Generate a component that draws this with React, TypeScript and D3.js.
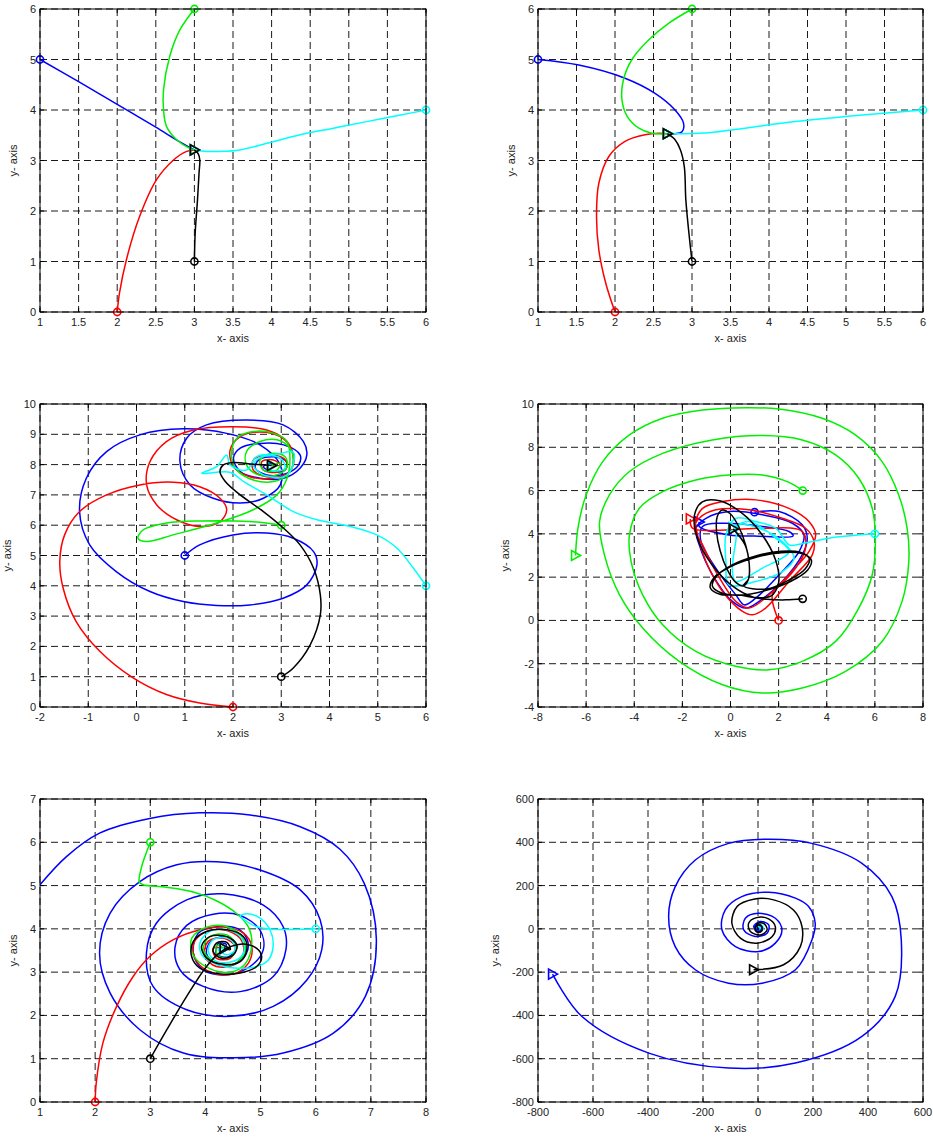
import React from 'react';
import * as d3 from 'd3';

type Pt = [number, number];

// ---------- tick values ----------
const ticksX12 = [1, 1.5, 2, 2.5, 3, 3.5, 4, 4.5, 5, 5.5, 6];
const ticksY12 = [0, 1, 2, 3, 4, 5, 6];
const ticksX3 = [-2, -1, 0, 1, 2, 3, 4, 5, 6];
const ticksY3 = [0, 1, 2, 3, 4, 5, 6, 7, 8, 9, 10];
const ticksX4 = [-8, -6, -4, -2, 0, 2, 4, 6, 8];
const ticksY4 = [-4, -2, 0, 2, 4, 6, 8, 10];
const ticksX5 = [1, 2, 3, 4, 5, 6, 7, 8];
const ticksY5 = [0, 1, 2, 3, 4, 5, 6, 7];
const ticksX6 = [-800, -600, -400, -200, 0, 200, 400, 600];
const ticksY6 = [-800, -600, -400, -200, 0, 200, 400, 600];

// ---------- panel 1 ----------
const p1Blue: Pt[] = [[1, 5], [1.5, 4.56], [2, 4.11], [2.5, 3.66], [2.8, 3.38], [3, 3.21]];
const p1Red: Pt[] = [[2, 0], [2.03, 0.38], [2.12, 1.04], [2.29, 1.89], [2.51, 2.62], [2.73, 3.01], [2.9, 3.18], [3, 3.21]];
const p1Green: Pt[] = [[3, 6], [2.81, 5.58], [2.68, 5.06], [2.6, 4.4], [2.6, 4.0], [2.64, 3.67], [2.77, 3.41], [2.94, 3.24], [3, 3.21]];
const p1Cyan: Pt[] = [[6, 4], [5.67, 3.9], [5.23, 3.77], [4.8, 3.64], [4.37, 3.51], [3.94, 3.34], [3.59, 3.21], [3.33, 3.18], [3.16, 3.18], [3, 3.21]];
const p1Black: Pt[] = [[3, 1], [3.01, 1.56], [3.04, 2.22], [3.06, 2.75], [3.07, 3.01], [3.05, 3.13], [3, 3.21]];

// ---------- panel 2 ----------
const p2Blue: Pt[] = [[1, 5], [1.53, 4.89], [2.13, 4.63], [2.52, 4.33], [2.78, 4.0], [2.89, 3.74], [2.87, 3.57], [2.78, 3.53], [2.68, 3.53]];
const p2Red: Pt[] = [[2, 0], [1.88, 0.57], [1.79, 1.23], [1.76, 1.89], [1.79, 2.55], [1.92, 3.08], [2.13, 3.38], [2.39, 3.51], [2.57, 3.54], [2.68, 3.53]];
const p2Green: Pt[] = [[3, 6], [2.7, 5.72], [2.44, 5.39], [2.22, 5.0], [2.11, 4.6], [2.09, 4.2], [2.16, 3.87], [2.31, 3.64], [2.48, 3.54], [2.68, 3.53]];
const p2Cyan: Pt[] = [[6, 4], [5.21, 3.9], [4.34, 3.77], [3.69, 3.64], [3.22, 3.55], [2.87, 3.53], [2.68, 3.53]];
const p2Black: Pt[] = [[3, 1], [2.96, 1.56], [2.92, 2.22], [2.9, 2.88], [2.85, 3.21], [2.78, 3.41], [2.68, 3.53]];

// ---------- panel 3 ----------
const p3Blue: Pt[] = [[1, 5], [1.31, 5.35], [2.0, 5.68], [2.7, 5.74], [3.25, 5.57], [3.67, 5.13], [3.74, 4.69], [3.53, 4.03], [3.04, 3.59], [2.35, 3.37], [1.66, 3.35], [0.97, 3.48], [0.28, 3.81], [-0.42, 4.47], [-0.97, 5.35], [-1.18, 6.45], [-1.04, 7.55], [-0.62, 8.43], [0.07, 8.98], [0.97, 9.18], [1.87, 9.03], [2.56, 8.65], [2.98, 7.99], [2.98, 7.33], [2.63, 6.89], [2.15, 6.73], [1.59, 6.89], [1.11, 7.33], [0.9, 8.1], [1.04, 8.87], [1.45, 9.31], [2.28, 9.47], [3.04, 9.31], [3.46, 8.76], [3.53, 8.32], [3.39, 7.88], [3.05, 7.55], [2.56, 7.55], [2.15, 7.77], [2.01, 8.21], [2.15, 8.54], [2.56, 8.7], [3.05, 8.65], [3.39, 8.32], [3.36, 7.99], [3.11, 7.71], [2.7, 7.66], [2.46, 7.88], [2.53, 8.15], [2.84, 8.26], [3.11, 8.1], [3.08, 7.82], [2.8, 7.77], [2.63, 7.93], [2.8, 8.04], [2.8, 7.97]];
const p3Red: Pt[] = [[2, 0], [1.31, 0.13], [0.62, 0.41], [-0.07, 0.96], [-0.76, 1.84], [-1.25, 2.82], [-1.52, 3.92], [-1.59, 4.8], [-1.49, 5.68], [-1.18, 6.45], [-0.62, 7.0], [0.07, 7.33], [0.76, 7.42], [1.31, 7.27], [1.73, 6.89], [1.87, 6.51], [1.73, 6.12], [1.31, 5.96], [0.83, 6.18], [0.42, 6.67], [0.21, 7.33], [0.28, 8.1], [0.62, 8.76], [1.18, 9.14], [2.01, 9.25], [2.7, 9.14], [3.12, 8.76], [3.25, 8.21], [3.18, 7.77], [2.84, 7.55], [2.35, 7.6], [2.01, 7.93], [1.94, 8.48], [2.15, 8.92], [2.56, 9.08], [2.98, 8.92], [3.22, 8.48], [3.25, 7.99], [3.08, 7.66], [2.7, 7.6], [2.42, 7.82], [2.42, 8.15], [2.7, 8.32], [3.05, 8.21], [3.12, 7.93], [2.91, 7.75], [2.63, 7.82], [2.6, 8.1], [2.84, 8.15], [2.98, 7.99], [2.8, 7.97]];
const p3Green: Pt[] = [[3, 6], [2.35, 6.12], [1.31, 6.14], [0.62, 6.07], [0.14, 5.85], [0.03, 5.57], [0.21, 5.46], [0.76, 5.68], [1.66, 6.07], [2.42, 6.51], [2.91, 7.0], [3.12, 7.55], [3.18, 8.21], [3.12, 8.76], [2.84, 9.03], [2.42, 9.09], [2.08, 8.87], [1.97, 8.32], [2.08, 7.82], [2.42, 7.49], [2.84, 7.44], [3.12, 7.66], [3.25, 8.1], [3.18, 8.54], [2.91, 8.82], [2.56, 8.76], [2.28, 8.43], [2.28, 7.99], [2.53, 7.66], [2.91, 7.66], [3.12, 7.93], [3.08, 8.26], [2.8, 8.37], [2.56, 8.15], [2.63, 7.82], [2.91, 7.82], [2.98, 8.04], [2.8, 7.97]];
const p3Cyan: Pt[] = [[6, 4], [5.74, 4.58], [5.4, 5.24], [4.98, 5.68], [4.43, 5.96], [3.74, 6.18], [3.25, 6.45], [2.7, 7.0], [2.22, 7.44], [1.94, 7.75], [1.35, 7.71], [1.66, 7.93], [1.87, 8.32], [1.94, 7.99], [2.28, 7.82], [2.49, 8.26], [2.91, 8.34], [3.25, 8.41], [3.22, 7.88], [3.05, 7.6], [2.63, 7.66], [2.42, 7.99], [2.6, 8.26], [2.98, 8.21], [3.08, 7.88], [2.8, 7.8], [2.7, 8.04], [2.8, 7.97]];
const p3Black: Pt[] = [[3, 1], [3.25, 1.29], [3.6, 2.05], [3.81, 3.04], [3.81, 3.7], [3.67, 4.58], [3.39, 5.35], [3.05, 5.9], [2.63, 6.45], [2.15, 7.0], [1.84, 7.44], [1.73, 7.77], [1.8, 7.99], [2.01, 8.07], [2.42, 8.01], [2.8, 7.97]];

// ---------- panel 4 ----------
const p4Green: Pt[] = [[3, 6], [2.43, 6.38], [1.33, 6.72], [-0.06, 6.72], [-1.44, 6.49], [-2.82, 5.95], [-3.79, 5.18], [-4.2, 3.95], [-4.13, 2.72], [-3.65, 1.18], [-2.82, -0.2], [-1.44, -1.43], [0.22, -2.12], [1.6, -2.28], [2.98, -1.89], [4.37, -0.97], [5.33, 0.57], [5.89, 2.11], [6.02, 3.8], [5.89, 5.18], [5.33, 6.57], [4.37, 7.65], [2.98, 8.34], [1.33, 8.54], [-0.75, 8.34], [-2.82, 7.72], [-4.2, 6.88], [-5.03, 5.8], [-5.44, 4.57], [-5.24, 3.03], [-4.61, 1.18], [-3.65, -0.35], [-2.13, -1.89], [-0.33, -2.97], [1.33, -3.35], [2.98, -3.12], [4.78, -2.35], [6.3, -0.97], [7.13, 0.88], [7.41, 2.72], [7.34, 4.26], [6.99, 5.8], [6.3, 7.34], [5.19, 8.57], [3.81, 9.34], [2.02, 9.77], [0.64, 9.83], [-1.16, 9.72], [-2.82, 9.34], [-4.2, 8.57], [-5.31, 7.34], [-6.0, 5.8], [-6.34, 4.26], [-6.44, 3.0]];
const p4Red: Pt[] = [[2, 0], [1.74, 1.18], [2.43, 2.11], [3.26, 3.18], [3.54, 3.95], [3.26, 4.57], [2.43, 5.18], [1.05, 5.57], [-0.33, 5.49], [-1.16, 5.18], [-1.44, 4.57], [-1.37, 3.95], [-1.02, 2.72], [-0.33, 1.34], [0.5, 0.42], [0.91, 0.26], [1.46, 0.57], [2.43, 1.8], [3.4, 3.03], [3.47, 3.65], [3.12, 4.26], [2.15, 4.72], [0.77, 5.11], [-0.61, 5.11], [-1.3, 4.72], [-1.51, 4.26], [-1.16, 3.49], [-0.61, 2.26], [0.22, 0.88], [0.77, 0.57], [1.6, 1.18], [2.71, 2.42], [3.12, 3.34], [2.98, 4.11], [1.33, 4.26], [-0.19, 4.18], [-1.58, 4.26], [-1.67, 4.69]];
const p4Blue: Pt[] = [[1, 5], [2.02, 5.03], [2.98, 4.42], [3.19, 3.8], [2.98, 3.03], [2.15, 1.8], [1.19, 0.88], [0.64, 0.57], [0.08, 0.88], [-0.75, 2.11], [-1.3, 3.49], [-1.44, 4.26], [-1.02, 4.72], [-0.06, 5.03], [1.33, 4.88], [2.57, 4.49], [3.05, 3.95], [2.85, 3.18], [2.02, 2.11], [1.05, 1.03], [0.57, 0.72], [0.22, 1.18], [-0.61, 2.42], [-1.23, 3.65], [-1.16, 4.34], [-0.33, 4.49], [1.33, 4.34], [2.43, 4.11], [2.6, 3.9], [1.0, 3.9], [-0.06, 3.95], [-1.3, 4.34], [-1.3, 4.55]];
const p4Cyan: Pt[] = [[6, 4], [4.09, 3.8], [2.71, 3.49], [2.43, 3.49], [1.88, 4.26], [1.05, 4.57], [0.22, 4.72], [-0.19, 3.95], [-0.19, 2.72], [-0.06, 1.64], [1.05, 1.8], [2.15, 2.26], [2.64, 2.88], [2.15, 3.65], [1.19, 4.26], [0.36, 4.42], [0.22, 3.65], [0.08, 2.26], [0.22, 1.8], [1.33, 2.42], [2.43, 3.18], [1.88, 3.8], [0.77, 4.57], [0.11, 4.3]];
const p4Black: Pt[] = [[3, 1], [2.3, 0.95], [1.5, 0.98], [0.95, 1.07], [0.05, 1.62], [-0.8, 2.62], [-1.37, 3.8], [-1.5, 4.85], [-1.17, 5.48], [-0.45, 5.53], [0.45, 4.98], [1.3, 3.98], [1.87, 2.8], [2.0, 1.75], [1.67, 1.12], [0.95, 1.07], [0.41, 1.17], [-0.44, 1.21], [-0.84, 1.51], [-0.68, 1.98], [0.01, 2.49], [1.03, 2.91], [2.11, 3.13], [2.96, 3.09], [3.36, 2.79], [3.2, 2.32], [2.51, 1.81], [1.49, 1.39], [0.41, 1.17], [-0.4, 1.28], [-0.75, 1.58], [-0.6, 2.02], [0.05, 2.55], [1.05, 2.98], [2.1, 3.2], [2.9, 3.15], [3.28, 2.85], [3.1, 2.38], [2.45, 1.88], [1.49, 1.45], [0.54, 1.6], [0.75, 1.91], [0.78, 2.59], [0.63, 3.48], [0.34, 4.34], [-0.01, 4.93], [-0.34, 5.1], [-0.55, 4.8], [-0.58, 4.11], [-0.43, 3.22], [-0.14, 2.36], [0.21, 1.77], [0.54, 1.6], [0.75, 1.91], [0.78, 2.59], [0.6, 3.5], [0.11, 4.23]];

// ---------- panel 5 ----------
const p5Blue: Pt[] = [[1, 5.02], [1.48, 5.67], [2.08, 6.21], [2.99, 6.55], [3.9, 6.68], [4.81, 6.63], [5.72, 6.36], [6.44, 5.84], [6.88, 5.05], [7.1, 3.75], [6.9, 2.44], [6.32, 1.59], [5.41, 1.13], [4.51, 1.02], [3.6, 1.13], [2.81, 1.67], [2.27, 2.52], [2.08, 3.44], [2.27, 4.36], [2.81, 5.09], [3.48, 5.48], [4.2, 5.55], [4.99, 5.36], [5.72, 4.9], [6.08, 4.21], [6.11, 3.52], [5.84, 2.82], [5.23, 2.21], [4.45, 1.98], [3.66, 2.13], [3.05, 2.67], [2.93, 3.44], [3.11, 4.13], [3.66, 4.67], [4.32, 4.81], [5.05, 4.55], [5.41, 4.05], [5.46, 3.52], [5.23, 2.9], [4.63, 2.55], [3.96, 2.67], [3.54, 3.05], [3.45, 3.59], [3.66, 4.08], [4.14, 4.34], [4.63, 4.31], [4.99, 3.97], [5.05, 3.52], [4.81, 3.13], [4.39, 2.94], [3.96, 3.05], [3.78, 3.44], [3.87, 3.9], [4.2, 4.05], [4.63, 3.97], [4.78, 3.62], [4.63, 3.24], [4.26, 3.16], [4.02, 3.42], [4.11, 3.73], [4.41, 3.81], [4.57, 3.58], [4.41, 3.35], [4.2, 3.42], [4.23, 3.66], [4.38, 3.64], [4.34, 3.55]];
const p5Red: Pt[] = [[2, 0], [2.02, 0.44], [2.14, 1.36], [2.39, 2.21], [2.69, 2.9], [2.99, 3.36], [3.42, 3.75], [3.9, 3.98], [4.32, 4.04], [4.69, 3.9], [4.84, 3.59], [4.78, 3.21], [4.51, 2.96], [4.14, 2.98], [3.84, 3.25], [3.78, 3.63], [3.96, 3.9], [4.32, 3.98], [4.63, 3.78], [4.69, 3.44], [4.51, 3.17], [4.2, 3.13], [3.99, 3.36], [4.05, 3.71], [4.34, 3.78], [4.54, 3.59], [4.45, 3.32], [4.2, 3.32], [4.14, 3.55], [4.34, 3.55]];
const p5Green: Pt[] = [[3, 6], [2.92, 5.73], [2.84, 5.42], [2.8, 5.08], [2.87, 5.02], [3.29, 4.96], [3.78, 4.85], [4.2, 4.65], [4.57, 4.35], [4.78, 4.04], [4.84, 3.65], [4.72, 3.19], [4.45, 3.0], [4.08, 3.08], [3.78, 3.39], [3.75, 3.78], [4.02, 4.04], [4.39, 4.05], [4.66, 3.82], [4.72, 3.45], [4.51, 3.18], [4.14, 3.25], [3.96, 3.52], [4.08, 3.82], [4.39, 3.86], [4.57, 3.59], [4.45, 3.35], [4.23, 3.37], [4.2, 3.62], [4.34, 3.55]];
const p5Cyan: Pt[] = [[6, 4], [5.72, 3.99], [5.23, 3.99], [4.93, 4.05], [4.75, 4.17], [4.63, 4.3], [4.75, 4.35], [4.99, 4.25], [5.17, 3.98], [5.23, 3.63], [5.14, 3.28], [4.93, 3.13], [4.63, 3.09], [4.26, 3.16], [3.96, 3.36], [3.9, 3.67], [4.08, 3.94], [4.39, 3.98], [4.66, 3.78], [4.69, 3.44], [4.51, 3.25], [4.2, 3.25], [4.05, 3.48], [4.14, 3.75], [4.44, 3.77], [4.54, 3.52], [4.39, 3.4], [4.23, 3.52], [4.34, 3.55]];
const p5Black: Pt[] = [[3, 1], [3.3, 1.67], [3.66, 2.44], [4.02, 3.13], [4.26, 3.45], [4.45, 3.59], [4.69, 3.65], [4.93, 3.55], [5.02, 3.36], [4.93, 3.13], [4.63, 2.98], [4.26, 2.96], [3.9, 3.09], [3.75, 3.36], [3.78, 3.71], [4.02, 3.94], [4.39, 3.98], [4.69, 3.82], [4.75, 3.52], [4.63, 3.25], [4.33, 3.18], [4.02, 3.33], [3.93, 3.6], [4.08, 3.82], [4.39, 3.82], [4.57, 3.63], [4.51, 3.4], [4.29, 3.32], [4.14, 3.48], [4.2, 3.67], [4.39, 3.69], [4.45, 3.52], [4.34, 3.55]];

// ---------- panel 6 ----------
const p6Blue: Pt[] = [[1, 5], [2, -5], [-16, 11], [8, 34], [39, 18], [33, -20], [-10, -35], [-52, -5], [-46, 49], [2, 72], [63, 49], [87, -5], [63, -66], [2, -105], [-82, -82], [-131, -5], [-119, 88], [-59, 149], [38, 169], [136, 142], [184, 103], [208, 26], [196, -51], [136, -189], [15, -251], [-107, -251], [-228, -189], [-301, -82], [-325, 57], [-301, 195], [-228, 318], [-107, 395], [38, 414], [196, 395], [378, 303], [487, 149], [521, -51], [499, -312], [378, -497], [136, -620], [-107, -643], [-397, -574], [-640, -405], [-747, -209]];
const p6Black: Pt[] = [[3, 1], [0, 0], [-4, 23], [20, 26], [33, -5], [8, -28], [-28, -12], [-34, 26], [-5, 52], [40, 45], [63, 10], [51, -36], [-4, -66], [-64, -43], [-95, 26], [-76, 103], [-16, 137], [57, 134], [129, 87], [160, 10], [154, -82], [93, -166], [-16, -189]];
const p6Cyan: Pt[] = [[6, 4], [16, 8], [12, -10], [-6, -12], [-12, 3], [-1, 11], [8, 3], [2, -4], [0, 0]];
const p6Red: Pt[] = [[2, 0], [9, 9], [-4, 10], [-9, -1], [0, -8], [6, -2], [0, 1]];
const p6Green: Pt[] = [[3, 6], [8, -6], [-5, -7], [-7, 4], [3, 7], [5, 0], [0, 0]];

// ---------- layout ----------
const COLORS = { blue: '#0000ff', red: '#ff0000', green: '#00f000', cyan: '#00ffff', black: '#000000' };

interface Series { color: string; pts: Pt[]; start: boolean; end: boolean }
interface PanelDef {
  x0: number; y0: number; w: number; h: number;
  xDomain: [number, number]; yDomain: [number, number];
  xTicks: number[]; yTicks: number[]; series: Series[];
}

const S = (color: string, pts: Pt[], start = true, end = true): Series => ({ color, pts, start, end });

const LX = 40, RX = 538, W = 385, H = 303;
const ROWS = [9, 404, 799];

const panels: PanelDef[] = [
  { x0: LX, y0: ROWS[0], w: W + 1, h: H, xDomain: [1, 6], yDomain: [0, 6], xTicks: ticksX12, yTicks: ticksY12,
    series: [S(COLORS.blue, p1Blue), S(COLORS.red, p1Red), S(COLORS.green, p1Green), S(COLORS.cyan, p1Cyan), S(COLORS.black, p1Black)] },
  { x0: RX, y0: ROWS[0], w: W, h: H, xDomain: [1, 6], yDomain: [0, 6], xTicks: ticksX12, yTicks: ticksY12,
    series: [S(COLORS.blue, p2Blue), S(COLORS.red, p2Red), S(COLORS.green, p2Green), S(COLORS.cyan, p2Cyan), S(COLORS.black, p2Black)] },
  { x0: LX, y0: ROWS[1], w: W + 1, h: H, xDomain: [-2, 6], yDomain: [0, 10], xTicks: ticksX3, yTicks: ticksY3,
    series: [S(COLORS.blue, p3Blue), S(COLORS.red, p3Red), S(COLORS.green, p3Green), S(COLORS.cyan, p3Cyan), S(COLORS.black, p3Black)] },
  { x0: RX, y0: ROWS[1], w: W, h: H, xDomain: [-8, 8], yDomain: [-4, 10], xTicks: ticksX4, yTicks: ticksY4,
    series: [S(COLORS.green, p4Green), S(COLORS.blue, p4Blue), S(COLORS.red, p4Red), S(COLORS.cyan, p4Cyan), S(COLORS.black, p4Black)] },
  { x0: LX, y0: ROWS[2], w: W + 1, h: H, xDomain: [1, 8], yDomain: [0, 7], xTicks: ticksX5, yTicks: ticksY5,
    series: [S(COLORS.blue, p5Blue, false), S(COLORS.red, p5Red), S(COLORS.green, p5Green), S(COLORS.cyan, p5Cyan), S(COLORS.black, p5Black)] },
  { x0: RX, y0: ROWS[2], w: W, h: H, xDomain: [-800, 600], yDomain: [-800, 600], xTicks: ticksX6, yTicks: ticksY6,
    series: [S(COLORS.red, p6Red, true, false), S(COLORS.green, p6Green, true, false), S(COLORS.cyan, p6Cyan, true, false), S(COLORS.blue, p6Blue), S(COLORS.black, p6Black)] },
];

const FONT = "'Liberation Sans', Arial, sans-serif";

function textWidth(s: string): number {
  let w = 0;
  for (const c of s) w += c === '-' ? 3.66 : c === '.' ? 3.06 : 6.12;
  return w;
}

function Panel({ p }: { p: PanelDef }) {
  const x = d3.scaleLinear().domain(p.xDomain).range([p.x0, p.x0 + p.w]);
  const y = d3.scaleLinear().domain(p.yDomain).range([p.y0 + p.h, p.y0]);
  const line = d3.line<Pt>().x(d => x(d[0])).y(d => y(d[1])).curve(d3.curveCatmullRom.alpha(0.5));
  const bottom = p.y0 + p.h;
  const right = p.x0 + p.w;
  const maxW = Math.max(...p.yTicks.map(t => textWidth(String(t))));
  const yLabelX = p.x0 - 5 - maxW - 12;
  const tick = 4;
  return (
    <g>
      {p.xTicks.map((t, i) => (
        <line key={'gx' + i} x1={x(t)} x2={x(t)} y1={p.y0} y2={bottom} stroke="#000" strokeWidth={0.9} strokeDasharray="7,4" />
      ))}
      {p.yTicks.map((t, i) => (
        <line key={'gy' + i} x1={p.x0} x2={right} y1={y(t)} y2={y(t)} stroke="#000" strokeWidth={0.9} strokeDasharray="7,4" />
      ))}
      {p.xTicks.map((t, i) => (
        <g key={'tx' + i}>
          <line x1={x(t)} x2={x(t)} y1={bottom} y2={bottom - tick} stroke="#000" />
          <line x1={x(t)} x2={x(t)} y1={p.y0} y2={p.y0 + tick} stroke="#000" />
          <text x={x(t)} y={bottom + 14} textAnchor="middle" fontFamily={FONT} fontSize={11} fill="#222">{String(t)}</text>
        </g>
      ))}
      {p.yTicks.map((t, i) => (
        <g key={'ty' + i}>
          <line x1={p.x0} x2={p.x0 + tick} y1={y(t)} y2={y(t)} stroke="#000" />
          <line x1={right} x2={right - tick} y1={y(t)} y2={y(t)} stroke="#000" />
          <text x={p.x0 - 4} y={y(t) + 4} textAnchor="end" fontFamily={FONT} fontSize={11} fill="#222">{String(t)}</text>
        </g>
      ))}
      {p.series.map((s, i) => {
        const a = s.pts[0];
        const b = s.pts[s.pts.length - 1];
        const bx = x(b[0]), by = y(b[1]);
        return (
          <g key={'s' + i}>
            <path d={line(s.pts) || ''} fill="none" stroke={s.color} strokeWidth={1.5} strokeLinejoin="round" />
            {s.start && <circle cx={x(a[0])} cy={y(a[1])} r={3.6} fill="none" stroke={s.color} strokeWidth={1.6} />}
            {s.end && (
              <path d={`M${bx + 5},${by} L${bx - 4},${by - 5} L${bx - 4},${by + 5} Z`} fill="none" stroke={s.color} strokeWidth={1.6} strokeLinejoin="miter" />
            )}
          </g>
        );
      })}
      <rect x={p.x0} y={p.y0} width={p.w} height={p.h} fill="none" stroke="#000" strokeWidth={1} />
      <text x={p.x0 + p.w / 2} y={bottom + 30} textAnchor="middle" fontFamily={FONT} fontSize={11} fill="#222">x- axis</text>
      <text transform={`translate(${yLabelX},${p.y0 + p.h / 2}) rotate(-90)`} textAnchor="middle" fontFamily={FONT} fontSize={11} fill="#222">y- axis</text>
    </g>
  );
}

export default function App() {
  return (
    <svg width={933} height={1139} viewBox="0 0 933 1139" style={{ position: 'absolute', left: 0, top: 0, background: '#fff' }}>
      <rect x={0} y={0} width={933} height={1139} fill="#fff" />
      {panels.map((p, i) => <Panel key={i} p={p} />)}
    </svg>
  );
}
